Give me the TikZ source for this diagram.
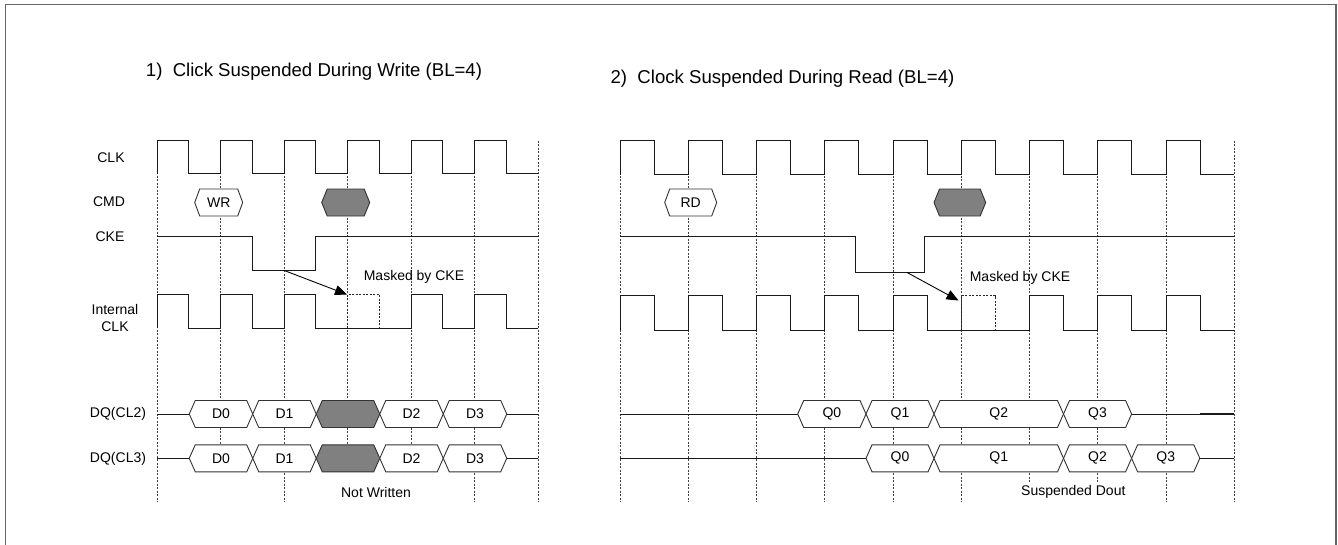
\documentclass[tikz,border=0pt]{standalone}
\usepackage{fontspec}
\setmainfont{Liberation Sans}
\usetikzlibrary{arrows.meta}
\newcommand{\hexbus}[8]{% x0, x1, yc, halfh, slant, fill, text, name
  \draw[hexline, fill=#6] (#1,#3) -- (#1+#5,#3-#4) -- (#2-#5,#3-#4) -- (#2,#3) -- (#2-#5,#3+#4) -- (#1+#5,#3+#4) -- cycle;
  \node[lbl] (#8) at ({(#1+#2)/2},#3) {#7};}
\begin{document}
\begin{tikzpicture}[x=1pt,y=-1pt,
  wave/.style={line width=1pt, draw=black!90},
  grid/.style={line width=0.8pt, draw=black!75, dash pattern=on 2pt off 1.5pt},
  maskline/.style={line width=0.9pt, draw=black!85, dash pattern=on 2pt off 1.5pt},
  hexline/.style={line width=0.9pt, draw=black!80},
  lbl/.style={font=\fontsize{14}{16.7}\selectfont, inner sep=0pt, text=black},
  ttl/.style={font=\fontsize{18.6}{21}\selectfont, inner sep=0pt, text=black},
  frame/.style={line width=1.6pt, draw=black!60},
  arr/.style={line width=0.9pt, draw=black, -{Triangle[length=12pt,width=10pt]}}]
\useasboundingbox (0,0) rectangle (1338,544);
\fill[white] (0,0) rectangle (1338,544);
\draw[frame] (5.5,545) -- (5.5,4.5) -- (1335.7,4.5) -- (1335.7,545);

% titles
\node[ttl] (t1) at (314,71.7) {1)\ \ Click Suspended During Write (BL=4)};
\node[ttl] (t2) at (782.5,78.3) {2)\ \ Clock Suspended During Read (BL=4)};

% signal labels
\node[lbl] (lclk) at (111,157.7) {CLK};
\node[lbl] (lcmd) at (109,201.7) {CMD};
\node[lbl] (lcke) at (110,236.5) {CKE};
\node[lbl, align=center] (lint) at (115,318.3) {Internal\\CLK};
\node[lbl] (ldq2) at (118,414) {DQ(CL2)};
\node[lbl] (ldq3) at (118,458.5) {DQ(CL3)};

% ---------- grid lines ----------
\foreach \x/\b in {157/502, 220.5/458, 284/502, 347.5/458, 411/458, 474.5/502, 538/502}
  \draw[grid] (\x,140.7) -- (\x,\b);
\foreach \x/\b in {620/502, 688.25/502, 756.5/502, 824.75/502, 893/502, 961.25/502, 1029.5/483, 1097.75/483, 1166/502, 1234.25/502}
  \draw[grid] (\x,140.7) -- (\x,\b);

% ---------- LEFT diagram ----------
% CLK
\draw[wave] (157,173.7) \foreach \k in {0,...,5} { -- ({157+63.5*\k},173.7) -- ({157+63.5*\k},140.7) -- ({188.75+63.5*\k},140.7) -- ({188.75+63.5*\k},173.7) } -- (538,173.7);
% CKE
\draw[wave] (157,236.7) -- (252.3,236.7) -- (252.3,270.3) -- (315.5,270.3) -- (315.5,236.7) -- (538,236.7);
% Internal CLK
\draw[wave] (157,328.3) \foreach \k in {0,...,2} { -- ({157+63.5*\k},328.3) -- ({157+63.5*\k},294.3) -- ({188.75+63.5*\k},294.3) -- ({188.75+63.5*\k},328.3) } -- (411,328.3)
  \foreach \k in {4,5} { -- ({157+63.5*\k},328.3) -- ({157+63.5*\k},294.3) -- ({188.75+63.5*\k},294.3) -- ({188.75+63.5*\k},328.3) } -- (538,328.3);
\draw[maskline] (347.5,328.3) -- (347.5,294.3) -- (379.25,294.3) -- (379.25,328.3);
% arrow
\coordinate (a1s) at (283.75,270.3);
\coordinate (a1e) at (347,294.5);
\draw[arr] (a1s) -- (a1e);
\node[lbl] (m1) at (414,276.7) {Masked by CKE};
% CMD
\hexbus{194.7}{242.7}{202.5}{13.5}{5}{white}{WR}{cwr}
\hexbus{321.7}{369.7}{202.5}{13.5}{5.5}{black!50}{}{cg1}
% DQ(CL2)
\draw[wave] (157,414) -- (189.25,414);
\draw[wave] (506.75,414) -- (538,414);
\hexbus{189.25}{252.75}{414}{13.5}{6}{white}{D0}{a0}
\hexbus{252.75}{316.25}{414}{13.5}{6}{white}{D1}{a1}
\hexbus{316.25}{379.75}{414}{13.5}{6}{black!50}{}{ag}
\hexbus{379.75}{443.25}{414}{13.5}{6}{white}{D2}{a2}
\hexbus{443.25}{506.75}{414}{13.5}{6}{white}{D3}{a3}
% DQ(CL3)
\draw[wave] (157,458.3) -- (189.25,458.3);
\draw[wave] (506.75,458.3) -- (538,458.3);
\hexbus{189.25}{252.75}{458.3}{13.5}{6}{white}{D0}{b0}
\hexbus{252.75}{316.25}{458.3}{13.5}{6}{white}{D1}{b1}
\hexbus{316.25}{379.75}{458.3}{13.5}{6}{black!50}{}{bg}
\hexbus{379.75}{443.25}{458.3}{13.5}{6}{white}{D2}{b2}
\hexbus{443.25}{506.75}{458.3}{13.5}{6}{white}{D3}{b3}
\node[lbl] (nw) at (376,492.3) {Not Written};

% ---------- RIGHT diagram ----------
% CLK
\draw[wave] (620,174.7) \foreach \k in {0,...,8} { -- ({620+68.25*\k},174.7) -- ({620+68.25*\k},140.7) -- ({654.1+68.25*\k},140.7) -- ({654.1+68.25*\k},174.7) } -- (1234.25,174.7);
% CKE
\draw[wave] (620,236.7) -- (855.7,236.7) -- (855.7,272.3) -- (924.3,272.3) -- (924.3,236.7) -- (1234.25,236.7);
% Internal CLK
\draw[wave] (620,330) \foreach \k in {0,...,4} { -- ({620+68.25*\k},330) -- ({620+68.25*\k},295.7) -- ({654.1+68.25*\k},295.7) -- ({654.1+68.25*\k},330) } -- (1029.5,330)
  \foreach \k in {6,7,8} { -- ({620+68.25*\k},330) -- ({620+68.25*\k},295.7) -- ({654.1+68.25*\k},295.7) -- ({654.1+68.25*\k},330) } -- (1234.25,330);
\draw[maskline] (961.25,330) -- (961.25,295.7) -- (995.4,295.7) -- (995.4,330);
% arrow
\coordinate (a2s) at (906.7,272.3);
\coordinate (a2e) at (958.5,300.5);
\draw[arr] (a2s) -- (a2e);
\node[lbl] (m2) at (1020,277.7) {Masked by CKE};
% CMD
\hexbus{664.7}{716.7}{202.5}{13.5}{5}{white}{RD}{crd}
\hexbus{934}{985.7}{202.5}{13.5}{5.5}{black!50}{}{cg2}
% DQ(CL2)
\draw[wave] (620,414) -- (797.7,414);
\draw[wave] (1131.6,414) -- (1234.25,414);
\draw[wave, line width=1.6pt] (1199.7,414) -- (1234.25,414);
\hexbus{797.7}{866}{414}{13.5}{6}{white}{Q0}{p0}
\hexbus{866}{934}{414}{13.5}{6}{white}{Q1}{p1}
\hexbus{934}{1063.5}{414}{13.5}{6}{white}{Q2}{p2}
\hexbus{1063.5}{1131.6}{414}{13.5}{6}{white}{Q3}{p3}
% DQ(CL3)
\draw[wave] (620,458.3) -- (866,458.3);
\draw[wave] (1199.8,458.3) -- (1234.25,458.3);
\hexbus{866}{934}{458.3}{13.5}{6}{white}{Q0}{q0}
\hexbus{934}{1063.5}{458.3}{13.5}{6}{white}{Q1}{q1}
\hexbus{1063.5}{1131.6}{458.3}{13.5}{6}{white}{Q2}{q2}
\hexbus{1131.6}{1199.8}{458.3}{13.5}{6}{white}{Q3}{q3}
\node[lbl] (sd) at (1073.3,491.7) {Suspended Dout};
\end{tikzpicture}
\end{document}
